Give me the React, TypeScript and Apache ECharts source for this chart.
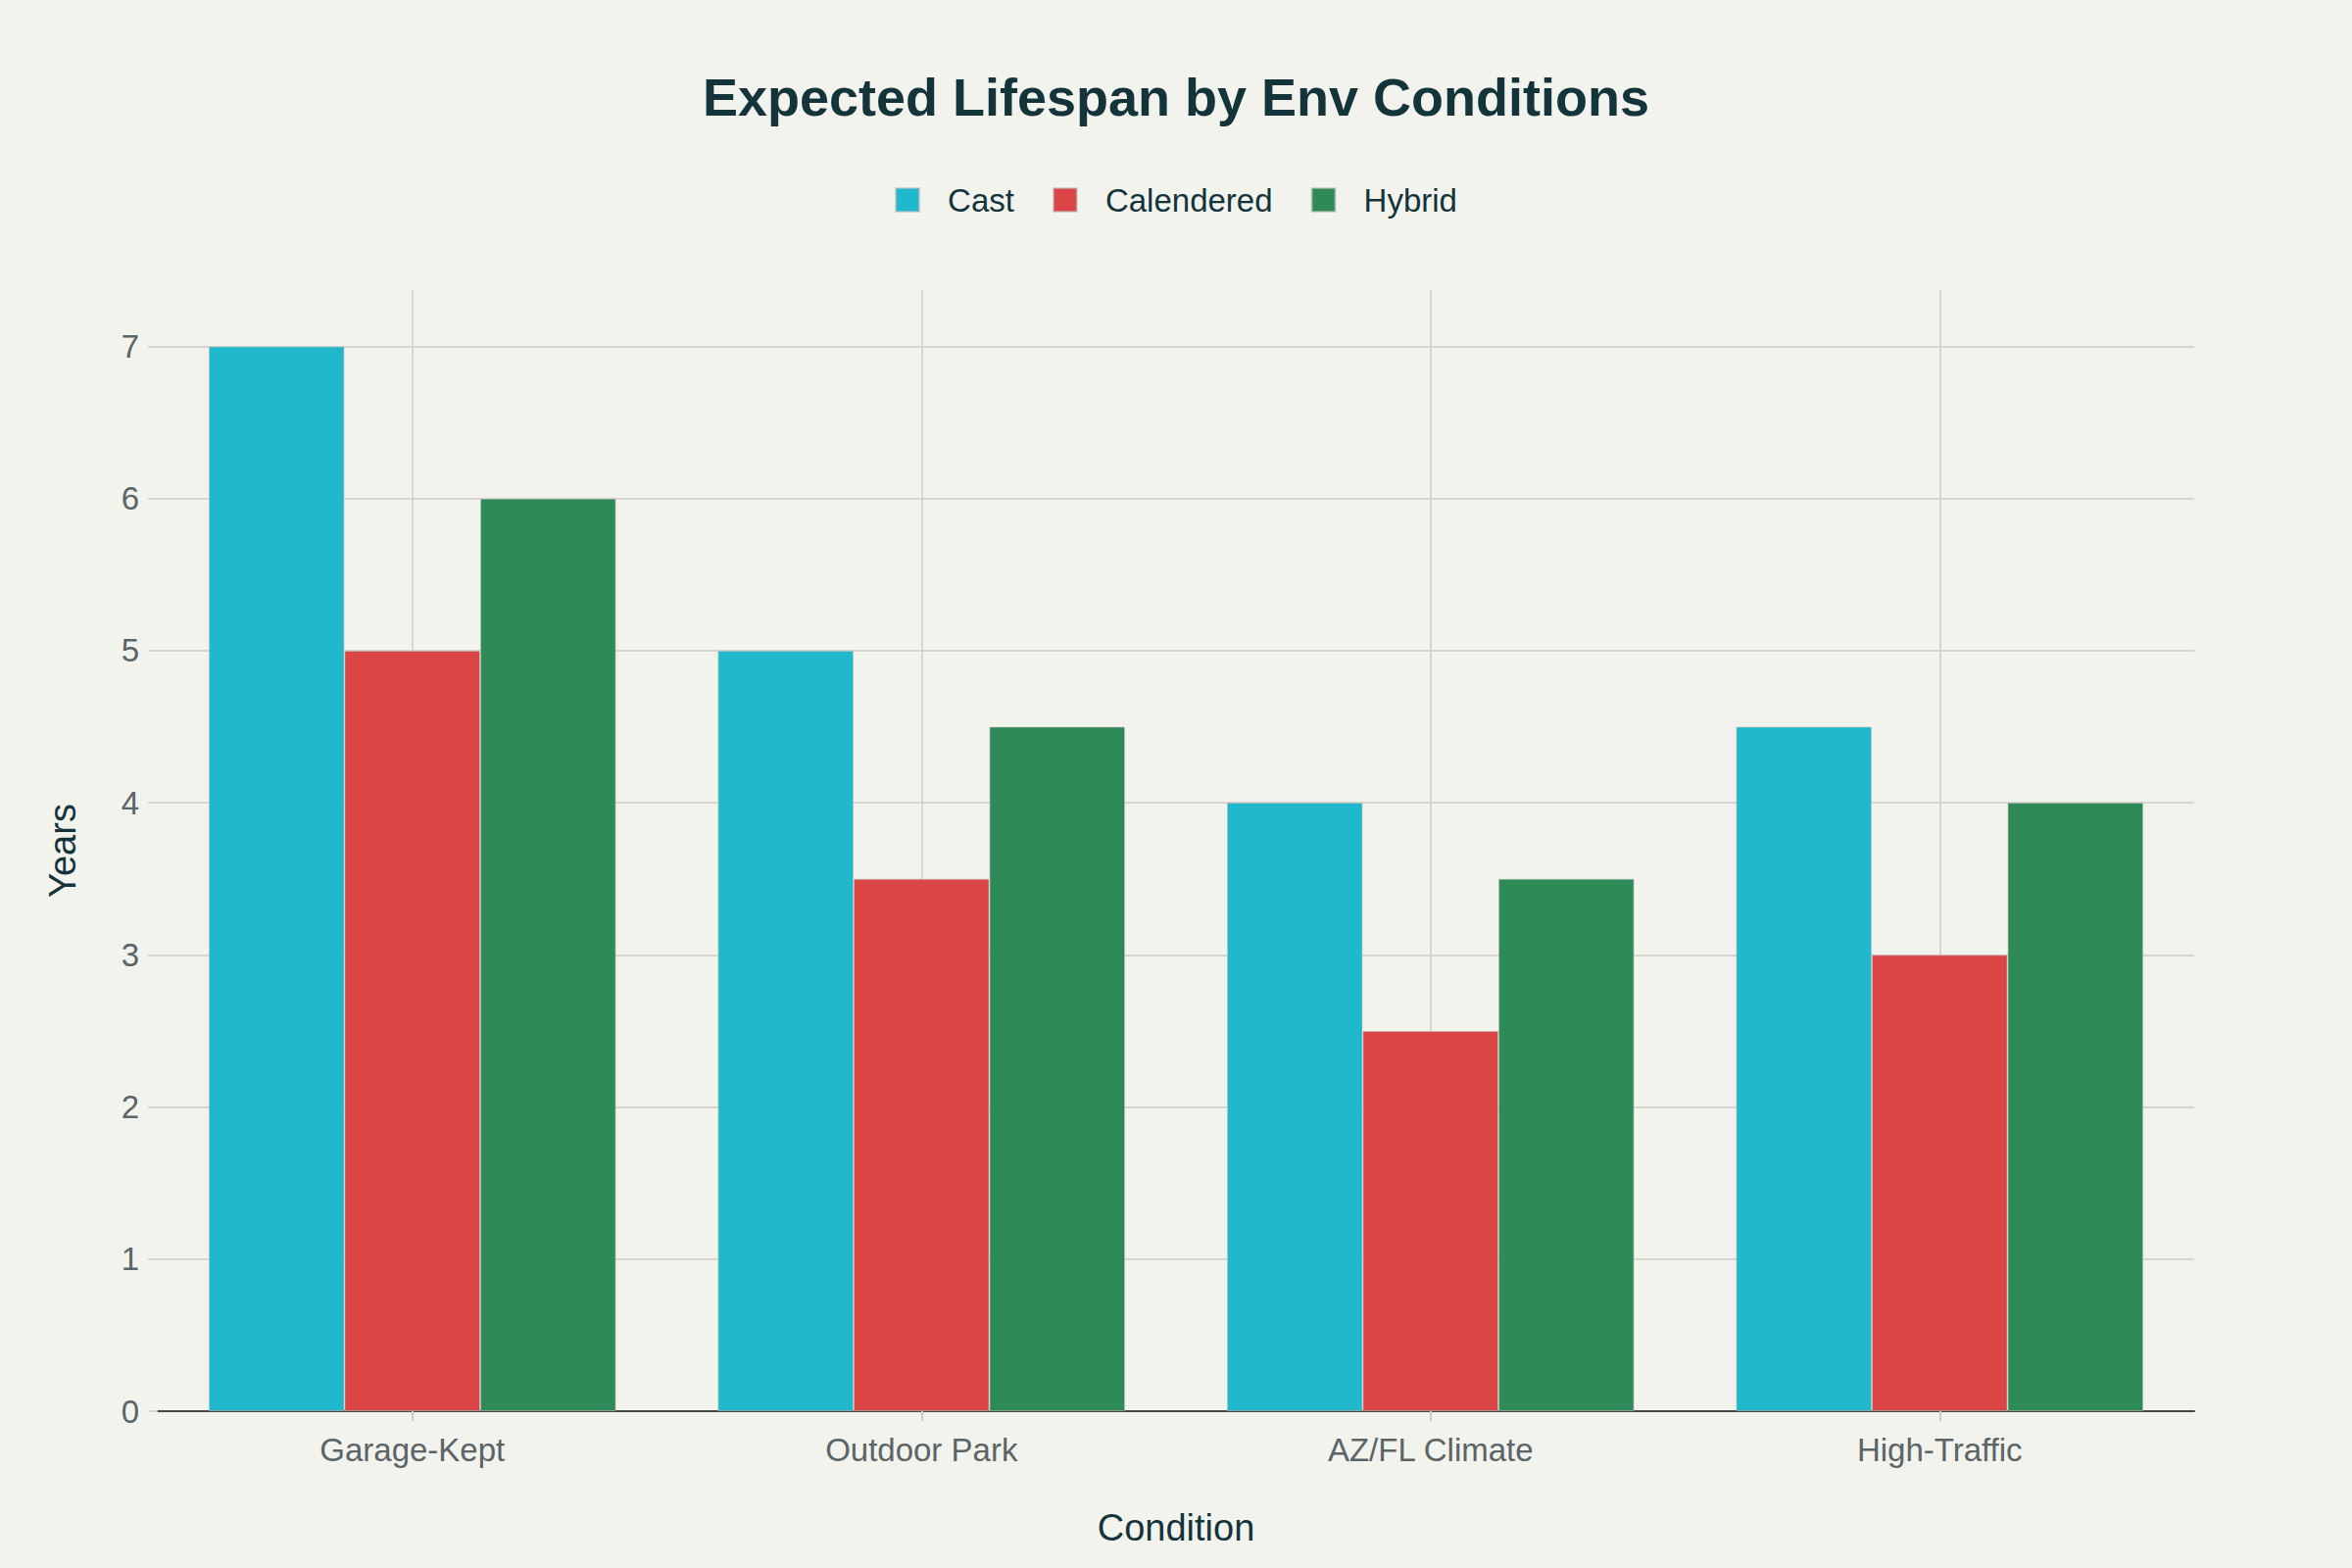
import { useEffect, useRef } from "react";
import * as echarts from "echarts";

const CONDITIONS = ["Garage-Kept", "Outdoor Park", "AZ/FL Climate", "High-Traffic"];
const CAST = [7, 5, 4, 4.5];
const CALENDERED = [5, 3.5, 2.5, 3];
const HYBRID = [6, 4.5, 3.5, 4];
const Y_TICKS = [0, 1, 2, 3, 4, 5, 6, 7];

const COLORS = ["#1FB8CD", "#DB4545", "#2E8B57"];
const FONT = "'Liberation Sans', Arial, sans-serif";
const GRID_COLOR = "#d8d5cf";

export default function App() {
  const chartRef = useRef<HTMLDivElement>(null);

  useEffect(() => {
    if (!chartRef.current) return;
    const chart = echarts.init(chartRef.current, undefined, { renderer: "svg" });

    const barStyle = (color: string) => ({
      color,
      borderColor: "rgba(190, 190, 190, 0.6)",
      borderWidth: 1,
    });

    chart.setOption({
      animation: false,
      backgroundColor: "#F3F3EE",
      textStyle: { fontFamily: FONT },
      title: {
        text: "Expected Lifespan by Env Conditions",
        left: "center",
        top: 67,
        textStyle: {
          fontFamily: FONT,
          fontSize: 54,
          fontWeight: "bold",
          color: "#13343B",
          lineHeight: 54,
        },
      },
      legend: {
        top: 181,
        left: "center",
        icon: "rect",
        itemWidth: 24,
        itemHeight: 24,
        itemGap: 39,
        textStyle: {
          fontFamily: FONT,
          fontSize: 33,
          color: "#13343B",
          lineHeight: 36,
          padding: [0, 0, 0, 24],
        },
      },
      grid: { left: 161, right: 161, top: 296, bottom: 160, containLabel: false },
      xAxis: {
        type: "category",
        data: CONDITIONS,
        name: "Condition",
        nameLocation: "middle",
        nameGap: 100,
        nameTextStyle: { fontFamily: FONT, fontSize: 38, color: "#13343B", lineHeight: 38 },
        axisLine: { show: true, lineStyle: { color: "#464646", width: 2 } },
        axisTick: { show: true, alignWithLabel: true, length: 10, lineStyle: { color: "#cfccc6", width: 2 } },
        axisLabel: { fontFamily: FONT, fontSize: 33, color: "#5b6466", margin: 23, lineHeight: 33 },
        splitLine: { show: true, alignWithLabel: true, lineStyle: { color: GRID_COLOR, width: 2 } },
      },
      yAxis: {
        type: "value",
        min: 0,
        max: 7.37,
        interval: 1,
        name: "Years",
        nameLocation: "middle",
        nameGap: 78,
        nameTextStyle: { fontFamily: FONT, fontSize: 38, color: "#13343B", lineHeight: 38 },
        axisLine: { show: false },
        axisTick: {
          show: true,
          length: 10,
          customValues: Y_TICKS,
          lineStyle: { color: GRID_COLOR, width: 2 },
        },
        axisLabel: {
          fontFamily: FONT,
          fontSize: 33,
          color: "#5b6466",
          margin: 19,
          customValues: Y_TICKS,
        },
        splitLine: { show: true, lineStyle: { color: GRID_COLOR, width: 2 } },
      },
      series: [
        { name: "Cast", type: "bar", data: CAST, itemStyle: barStyle(COLORS[0]), barGap: "0%", barCategoryGap: "20%" },
        { name: "Calendered", type: "bar", data: CALENDERED, itemStyle: barStyle(COLORS[1]), barGap: "0%", barCategoryGap: "20%" },
        { name: "Hybrid", type: "bar", data: HYBRID, itemStyle: barStyle(COLORS[2]), barGap: "0%", barCategoryGap: "20%" },
      ],
    });

    return () => {
      chart.dispose();
    };
  }, []);

  return (
    <div
      ref={chartRef}
      style={{ position: "absolute", left: 0, top: 0, width: 2400, height: 1600 }}
    />
  );
}
